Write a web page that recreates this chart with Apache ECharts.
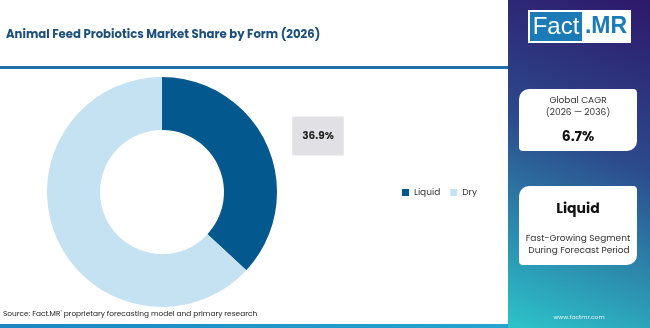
<!DOCTYPE html>
<html>
<head>
<meta charset="utf-8">
<script src="https://cdn.jsdelivr.net/npm/echarts@6/dist/echarts.min.js"></script>
<style>html,body{margin:0;padding:0;background:#fff;}#c{width:650px;height:328px;}</style>
</head>
<body>
<div id="c"></div>
<script>
const categories = ['Liquid', 'Dry'];
const shares = [36.9, 63.1];
const seriesColors = ['#03598e', '#c5e2f2'];
const titleText = 'Animal Feed Probiotics Market Share by Form (2026)';
const sourceText = "Source: Fact.MR' proprietary forecasting model and primary research";
const cagrLabel = ['Global CAGR', '(2026 \u2014 2036)'];
const cagrValue = '6.7%';
const segmentName = 'Liquid';
const segmentNote = ['Fast-Growing Segment', 'During Forecast Period'];

const FONT = 'Poppins, "Open Sans", Lato, sans-serif';
const chart = echarts.init(document.getElementById('c'), null, {renderer: 'canvas'});

const option = {
  animation: false,
  textStyle: {fontFamily: FONT},
  legend: {
    data: categories,
    left: 397, top: 183,
    icon: 'rect', itemWidth: 7, itemHeight: 7, itemGap: 10,
    textStyle: {fontSize: 9, color: '#333', fontFamily: FONT}
  },
  graphic: [
    // right panel
    {type: 'rect', left: 508, top: 0, shape: {width: 142, height: 328}, silent: true,
     style: {fill: {type: 'linear', x: 1, y: 0, x2: 0.1, y2: 1, colorStops: [
       {offset: 0, color: '#2e186a'}, {offset: 0.45, color: '#2c4a8c'}, {offset: 1, color: '#2cc1c9'}]}}},
    // top rule
    {type: 'rect', left: 0, top: 66, shape: {width: 508, height: 3}, style: {fill: '#1f6fab'}},
    // bottom rule
    {type: 'rect', left: 0, top: 324, shape: {width: 508, height: 4},
     style: {fill: {type: 'linear', x: 0, y: 0, x2: 1, y2: 0, colorStops: [
       {offset: 0, color: '#1b86c2'}, {offset: 1, color: '#24a6cf'}]}}},
    // title
    {type: 'text', left: 6, top: 29, style: {text: titleText, font: 'bold 11.7px ' + FONT, fill: '#1b4f7c'}},
    // source
    {type: 'text', left: 3, top: 311, style: {text: sourceText, font: '7.4px ' + FONT, fill: '#222'}},
    // logo
    {type: 'rect', left: 528, top: 10, shape: {width: 103, height: 33}, style: {fill: '#fff'}},
    {type: 'rect', left: 530, top: 12, shape: {width: 52, height: 29}, style: {fill: '#1a7bb6'}},
    {type: 'text', x: 556, y: 27, style: {text: 'Fact', font: '24px "Liberation Sans Narrow", "Liberation Sans", sans-serif', fill: '#fff', align: 'center', verticalAlign: 'middle'}},
    {type: 'text', x: 606, y: 27, style: {text: '.MR', font: 'bold 23px "Liberation Sans", sans-serif', fill: '#1a7bb6', align: 'center', verticalAlign: 'middle'}},
    // card 1
    {type: 'rect', left: 519, top: 89, shape: {width: 118, height: 62, r: [10, 4, 10, 4]}, style: {fill: '#fff'}},
    {type: 'text', x: 578, y: 101, style: {text: cagrLabel[0], font: '9px ' + FONT, fill: '#333', align: 'center', verticalAlign: 'middle'}},
    {type: 'text', x: 578, y: 113, style: {text: cagrLabel[1], font: '9px ' + FONT, fill: '#333', align: 'center', verticalAlign: 'middle'}},
    {type: 'text', x: 578, y: 137, style: {text: cagrValue, font: 'bold 14px ' + FONT, fill: '#111', align: 'center', verticalAlign: 'middle'}},
    // card 2
    {type: 'rect', left: 519, top: 186, shape: {width: 118, height: 79, r: [10, 4, 10, 4]}, style: {fill: '#fff'}},
    {type: 'text', x: 578, y: 209, style: {text: segmentName, font: 'bold 14px ' + FONT, fill: '#111', align: 'center', verticalAlign: 'middle'}},
    {type: 'text', x: 578, y: 239, style: {text: segmentNote[0], font: '9px ' + FONT, fill: '#333', align: 'center', verticalAlign: 'middle'}},
    {type: 'text', x: 579, y: 251, style: {text: segmentNote[1], font: '9px ' + FONT, fill: '#333', align: 'center', verticalAlign: 'middle'}},
    // url
    {type: 'text', x: 579, y: 317, style: {text: 'www.factmr.com', font: '6px ' + FONT, fill: '#e6f3f8', align: 'center', verticalAlign: 'middle'}}
  ],
  series: [{
    type: 'pie',
    center: [162, 192],
    radius: [62, 115],
    startAngle: 90,
    clockwise: true,
    color: seriesColors,
    data: categories.map((n, i) => ({
      name: n, value: shares[i],
      label: {show: i === 0}
    })),
    label: {
      formatter: p => p.value.toFixed(1) + '%',
      fontSize: 10.5, fontWeight: 'bold', color: '#222',
      backgroundColor: '#e1e0e4', padding: [14, 10],
      fontFamily: FONT
    },
    labelLine: {show: false},
    labelLayout: () => ({x: 318, y: 136, align: 'center', verticalAlign: 'middle'}),
    emphasis: {disabled: true}
  }]
};
chart.setOption(option);
</script>
</body>
</html>
